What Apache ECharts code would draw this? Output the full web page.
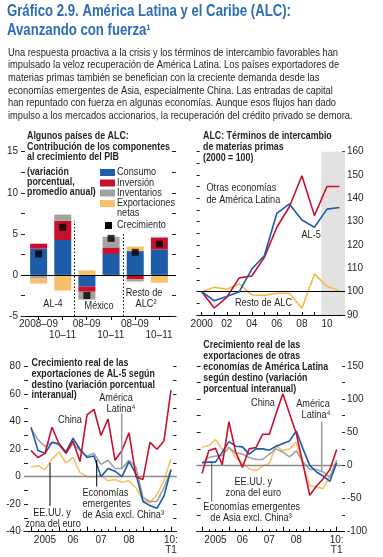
<!DOCTYPE html>
<html><head><meta charset="utf-8">
<script src="https://cdn.jsdelivr.net/npm/echarts@6/dist/echarts.min.js"></script>
<style>html,body{margin:0;padding:0;background:#fff}#c{width:383px;height:557px}</style>
</head><body><div id="c"></div><script>
// ---------- DATA ----------
// Panel 1: contribution to GDP growth (percentage points)
const p1Periods = ['2008–09', '10–11', '08–09', '10–11', '08–09', '10–11'];
const p1Groups = ['AL-4', 'México', 'Resto de ALC²'];
const p1Consumo = [3.2, 4.25, -1.4, 2.55, 2.9, 3.1];
const p1Inversion = [0.6, 2.35, -0.65, 0.8, -0.55, 1.4];
const p1Inventarios = [-0.45, 0.75, -0.95, 1.3, -0.25, 0.15];
const p1Exportaciones = [-0.6, -1.9, 0.55, -0.15, 0.55, -0.95];
const p1Crecimiento = [2.55, 5.8, -2.5, 4.45, 2.75, 3.75];
// Panel 2: commodity terms of trade (2000 = 100)
const p2Years = [2000, 2001, 2002, 2003, 2004, 2005, 2006, 2007, 2008, 2009, 2010, 2011];
const p2Otras = [100, 93, 97.6, 105.9, 106.7, 114.7, 127.6, 136.4, 149.7, 132.6, 145.1, 145.1];
const p2AL5 = [100, 96.1, 97.9, 100, 109.7, 115.4, 133.6, 137.6, 130.7, 127.6, 135.4, 136.1];
const p2Resto = [100, 101.9, 101, 103.3, 98.6, 98.4, 99.3, 99.3, 92.9, 107.6, 102.3, 100.4];
const p2ProjectionStart = 2009.55;
// Panels 3-4: quarters 2005:T1 .. 2010:T1
const qLabels = ['2005T1','2005T2','2005T3','2005T4','2006T1','2006T2','2006T3','2006T4','2007T1','2007T2','2007T3','2007T4','2008T1','2008T2','2008T3','2008T4','2009T1','2009T2','2009T3','2009T4','2010T1'];
const qTickLabels = {2: '2005', 6: '06', 10: '07', 14: '08', 20: '10:\nT1'};
// Panel 3: AL-5 exports by destination
const p3China = [19, 14, 17, 36, 24, 17, 26, 11, 45, 49, 30, 42, 12, 19, 32, 0, -2, 25, 20, 26, 63];
const p3Asia = [36, 19, 17, 25, 24, 18, 28, 20, 14, 15, 0, 6, 4, 0, 11, 2, -18, -21, -23, -14, 5];
const p3AmLat = [35, 27, 22, 25, 23, 17, 24, 19, 15, 17, 9, 12, 6, 6, 12, 7, -15, -18, -18, -8, 5];
const p3USEuro = [7, 8, 5, 13, 18, 10, 14, 3, 0, 0, 1, -3, -2, -4, -3, -8, -17, -19, -13, -3, 13];
// Panel 4: other Latin American economies exports by destination
const p4China = [-12, 22, 26, 1, 66, 20, -3, 25, 27, 47, 47, 78, 108, 78, 48, 2, -45, -31, -20, -6, 24];
const p4Asia = [4, 5, 5, 20, 36, 29, 28, 17, 25, 25, 23, 29, 33, 37, 52, 25, 0, -10, -16, -24, 4];
const p4AmLat = [4, 12, 14, 15, 27, 19, 17, 12, 9, 9, 17, 25, 20, 13, 22, 5, -6, -6, -10, -18, 8];
const p4USEuro = [27, 30, 39, 24, 28, 12, 3, -5, -8, -1, 3, 30, 22, 25, 35, 0, -30, -33, -35, -15, 5];

// ---------- STYLE ----------
const F = '"Liberation Sans", Arial, sans-serif';
const TXT = '#231f20';
const BLUE = '#1d5ca8', RED = '#c8102e', GRAY = '#a2a2a2', YEL = '#f9c06a', TITLEBLUE = '#2c6db5';

// horizontal condensation factors, so the regular font matches the condensed face of the original
const mctx = document.createElement('canvas').getContext('2d');
function measure(text, size, bold) { mctx.font = (bold ? 'bold ' : '') + size + 'px ' + F; return mctx.measureText(text).width; }
const SC = {
  title: 284 / measure('Gráfico 2.9. América Latina y el Caribe (ALC):', 16, true),
  body: 330 / measure('Una respuesta proactiva a la crisis y los términos de intercambio favorables han', 11, false),
  head: 143 / measure('Contribución de los componentes', 11, true),
  note: 96.7 / measure('Economías emergentes', 10.5, false)
};

function txt(x, y, text, o) {
  o = o || {};
  return { type: 'text', x: x, y: y, silent: true, scaleX: o.sx || SC.note, z: 100,
    style: { text: text, fill: o.color || TXT, fontFamily: F, fontSize: o.size || 10.5,
      fontWeight: o.bold ? 'bold' : 'normal', align: o.align || 'left', verticalAlign: 'middle' } };
}
function lines(x, y0, dy, arr, o) { return arr.map((t, i) => txt(x, y0 + i * dy, t, o)); }
function seg(x1, y1, x2, y2, color, w) {
  return { type: 'line', silent: true, z: 90, shape: { x1, y1, x2, y2 }, style: { stroke: color, lineWidth: w || 1 } };
}
function rect(x, y, w, h, color) { return { type: 'rect', silent: true, z: 90, shape: { x, y, width: w, height: h }, style: { fill: color } }; }

const axLabel = { fontFamily: F, fontSize: 10, color: TXT, showMinLabel: true, showMaxLabel: true, hideOverlap: false };
function yAx(grid, min, max, interval, step, pos, labels, tickInside, tickLen, margin, hidden) {
  return { type: 'value', gridIndex: grid, min, max, interval, position: pos, show: !hidden,
    splitLine: { show: false }, axisLine: { show: false, onZero: false },
    axisTick: { show: true, inside: tickInside, length: tickLen, lineStyle: { color: '#222', width: 1 } },
    axisLabel: Object.assign({ show: labels, margin: margin, formatter: v => (Math.abs(v % step) < 1e-9 ? String(v) : '') }, axLabel) };
}
const hiddenLine = { show: false, onZero: false };

const qIdx = qLabels.map((_, i) => i);
const pair = (xs, ys) => ys.map((v, i) => [xs[i], v]);
const p1x = p1Periods.map((_, i) => i);
const p1Even = p1x.filter(i => i % 2 === 0), p1Odd = p1x.filter(i => i % 2 === 1);

const grids = [
  { left: 21, top: 151.7, width: 155, height: 164.3 },       // panel 1 frame (axes)
  { left: 196.7, top: 151.7, width: 148.3, height: 163.3 },  // panel 2
  { left: 24, top: 366.7, width: 152.5, height: 165 },       // panel 3
  { left: 196.7, top: 366, width: 145.3, height: 165.7 },    // panel 4
  { left: 26.55, top: 151.7, width: 144.9, height: 164.3 }   // panel 1 bars (category band)
];

const xAxes = [
  // 0: panel 1 frame, first label row
  { type: 'value', gridIndex: 0, position: 'bottom', min: -0.726, max: 5.705, splitLine: { show: false },
    axisLine: { onZero: false, lineStyle: { color: '#000', width: 1 } },
    axisTick: { customValues: p1x, length: 4, lineStyle: { color: '#000' } },
    axisLabel: Object.assign({}, axLabel, { customValues: p1Even, margin: 3,
      formatter: v => p1Periods[Math.round(v)] }) },
  // 1: panel 2
  { type: 'value', gridIndex: 1, position: 'bottom', min: 1999.6, max: 2011.44, splitLine: { show: false },
    axisLine: { onZero: false, lineStyle: { color: '#000', width: 1 } },
    axisTick: { customValues: p2Years, length: 3, inside: true, lineStyle: { color: '#000' } },
    axisLabel: Object.assign({}, axLabel, { customValues: p2Years.filter(y => y % 2 === 0 && y <= 2010), margin: 4,
      formatter: v => (v === 2000 ? '2000' : String(v).slice(2)) }) },
  // 2: panel 3 (year ticks + labels)
  { type: 'value', gridIndex: 2, position: 'bottom', min: -1, max: 20.79, splitLine: { show: false },
    axisLine: { onZero: false, lineStyle: { color: '#000', width: 1 } },
    axisTick: { customValues: [0, 4, 8, 12, 16, 20], length: 5, inside: true, lineStyle: { color: '#000' } },
    axisLabel: Object.assign({}, axLabel, { customValues: [2, 6, 10, 14, 20], margin: 4, lineHeight: 10,
      formatter: v => qTickLabels[Math.round(v)] }) },
  // 3: panel 3 quarter ticks
  { type: 'value', gridIndex: 2, position: 'bottom', min: -1, max: 20.79, splitLine: { show: false },
    axisLine: hiddenLine, axisLabel: { show: false },
    axisTick: { customValues: qIdx, length: 2.5, inside: true, lineStyle: { color: '#000' } } },
  // 4: panel 4
  { type: 'value', gridIndex: 3, position: 'bottom', min: -0.79, max: 20.79, splitLine: { show: false },
    axisLine: { onZero: false, lineStyle: { color: '#000', width: 1 } },
    axisTick: { customValues: [0, 4, 8, 12, 16, 20], length: 5, inside: true, lineStyle: { color: '#000' } },
    axisLabel: Object.assign({}, axLabel, { customValues: [2, 6, 10, 14, 20], margin: 4, lineHeight: 10,
      formatter: v => qTickLabels[Math.round(v)] }) },
  // 5: panel 4 quarter ticks
  { type: 'value', gridIndex: 3, position: 'bottom', min: -0.79, max: 20.79, splitLine: { show: false },
    axisLine: hiddenLine, axisLabel: { show: false },
    axisTick: { customValues: qIdx, length: 2.5, inside: true, lineStyle: { color: '#000' } } },
  // 6: panel 1 bar categories (hidden)
  { type: 'category', gridIndex: 4, position: 'bottom', data: p1Periods, show: false, axisLine: hiddenLine },
  // 7: panel 1 second label row
  { type: 'value', gridIndex: 0, position: 'bottom', min: -0.726, max: 5.705, splitLine: { show: false },
    axisLine: hiddenLine, axisTick: { show: false },
    axisLabel: Object.assign({}, axLabel, { customValues: p1Odd, margin: 14,
      formatter: v => p1Periods[Math.round(v)] }) }
];

const yAxes = [
  yAx(0, -5, 15, 2.5, 5, 'left', true, true, 4, 3),      // 0
  yAx(0, -5, 15, 2.5, 5, 'right', false, true, 4, 3),    // 1
  yAx(1, 90, 160, 5, 10, 'right', true, true, 3, 2),     // 2
  yAx(1, 90, 160, 5, 10, 'left', false, true, 3, 2),     // 3
  yAx(2, -40, 80, 10, 20, 'left', true, true, 4, 3.3),   // 4
  yAx(2, -40, 80, 10, 20, 'right', false, true, 3.5, 3), // 5
  yAx(3, -100, 150, 25, 50, 'right', true, false, 3, 5), // 6
  yAx(3, -100, 150, 25, 50, 'left', false, true, 4, 3),  // 7
  yAx(4, -5, 15, 2.5, 5, 'left', false, true, 4, 3, true) // 8 hidden (bars)
];

const mlBase = { silent: true, symbol: 'none', label: { show: false }, animation: false };
function bar(name, vals, color) {
  return { type: 'bar', name, xAxisIndex: 6, yAxisIndex: 8, stack: 'gdp', barWidth: 17,
    data: vals, itemStyle: { color }, silent: true };
}
function ln(name, xi, yi, xs, vals, color, z) {
  return { type: 'line', name, xAxisIndex: xi, yAxisIndex: yi, data: pair(xs, vals), symbol: 'none',
    lineStyle: { color, width: 1.6 }, itemStyle: { color }, z: z || 3, silent: true };
}

const series = [
  // panel 1 frame lines (zero line and dotted separators between country groups)
  { type: 'line', name: 'frame', xAxisIndex: 0, yAxisIndex: 0, data: [], silent: true,
    markLine: Object.assign({}, mlBase, {
    data: [
      { yAxis: 0, lineStyle: { color: '#000', width: 1, type: 'solid' } },
      [{ coord: [1.5, -5], lineStyle: { color: '#000', width: 1, type: [1.5, 2] } }, { coord: [1.5, 6.6] }],
      [{ coord: [3.5, -5], lineStyle: { color: '#000', width: 1, type: [1.5, 2] } }, { coord: [3.5, 5.2] }]
    ] }) },
  bar('Consumo', p1Consumo, BLUE),
  bar('Inversión', p1Inversion, RED),
  bar('Inventarios', p1Inventarios, GRAY),
  bar('Exportaciones netas', p1Exportaciones, YEL),
  { type: 'scatter', name: 'Crecimiento', xAxisIndex: 6, yAxisIndex: 8, data: p1Crecimiento,
    symbol: 'rect', symbolSize: 7, itemStyle: { color: '#000' }, z: 5, silent: true },
  // panel 2
  Object.assign(ln('Resto de ALC', 1, 2, p2Years, p2Resto, '#f5b94a'), {
    markArea: { silent: true, itemStyle: { color: '#e2e2e2' }, data: [[{ xAxis: p2ProjectionStart }, { xAxis: 2011.44 }]] },
    markLine: Object.assign({}, mlBase, { data: [{ yAxis: 100, lineStyle: { color: '#000', width: 1, type: 'solid' } }] }) }),
  ln('Otras economías de América Latina', 1, 2, p2Years, p2Otras, RED, 4),
  ln('AL-5', 1, 2, p2Years, p2AL5, BLUE, 5),
  // panel 3
  Object.assign(ln('EE.UU. y zona del euro', 2, 4, qIdx, p3USEuro, YEL, 3), {
    markLine: Object.assign({}, mlBase, { data: [{ yAxis: 0, lineStyle: { color: '#8a8a8a', width: 1.3, type: 'solid' } }] }) }),
  ln('América Latina', 2, 4, qIdx, p3AmLat, GRAY, 4),
  ln('Economías emergentes de Asia excl. China', 2, 4, qIdx, p3Asia, BLUE, 5),
  ln('China', 2, 4, qIdx, p3China, RED, 6),
  // panel 4
  Object.assign(ln('EE.UU. y zona del euro', 4, 6, qIdx, p4USEuro, YEL, 3), {
    markLine: Object.assign({}, mlBase, { data: [{ yAxis: 0, lineStyle: { color: '#8a8a8a', width: 1.3, type: 'solid' } }] }) }),
  ln('América Latina', 4, 6, qIdx, p4AmLat, GRAY, 4),
  ln('Economías emergentes de Asia excl. China', 4, 6, qIdx, p4Asia, BLUE, 5),
  ln('China', 4, 6, qIdx, p4China, RED, 6)
];

const B = { bold: true, size: 11, sx: SC.head };
const graphic = [].concat(
  // main title
  [txt(7, 12, 'Gráfico 2.9. América Latina y el Caribe (ALC):', { bold: true, size: 16, color: TITLEBLUE, sx: SC.title }),
   txt(7, 31, 'Avanzando con fuerza¹', { bold: true, size: 16, color: TITLEBLUE, sx: SC.title })],
  lines(8, 52.5, 12.7, [
    'Una respuesta proactiva a la crisis y los términos de intercambio favorables han',
    'impulsado la veloz recuperación de América Latina. Los países exportadores de',
    'materias primas también se benefician con la creciente demanda desde las',
    'economías emergentes de Asia, especialmente China. Las entradas de capital',
    'han repuntado con fuerza en algunas economías. Aunque esos flujos han dado',
    'impulso a los mercados accionarios, la recuperación del crédito privado se demora.'], { size: 11, sx: SC.body }),
  // panel 1 title
  lines(27, 135.7, 10.8, ['Algunos países de ALC:', 'Contribución de los componentes', 'al crecimiento del PIB'], B),
  lines(27, 171.5, 10.1, ['(variación', 'porcentual,', 'promedio anual)'], B),
  // panel 1 legend
  [rect(100, 169, 15, 7, BLUE), txt(117, 172.5, 'Consumo'),
   rect(100, 179.5, 15, 7, RED), txt(117, 183, 'Inversión'),
   rect(100, 189.5, 15, 7, GRAY), txt(117, 193, 'Inventarios'),
   rect(100, 200, 15, 7, YEL), txt(117, 203.5, 'Exportaciones'), txt(117, 213.5, 'netas'),
   rect(105, 222, 7, 7, '#000'), txt(117, 225.5, 'Crecimiento')],
  // panel 1 group labels
  [txt(53, 304, 'AL-4', { align: 'center' }), txt(99, 306, 'México', { align: 'center' }),
   txt(144, 293, 'Resto de', { align: 'center' }), txt(146, 304.5, 'ALC²', { align: 'center' })],
  // panel 2
  lines(203, 135.7, 11, ['ALC: Términos de intercambio', 'de materias primas', '(2000 = 100)'], B),
  lines(206.5, 188.5, 11.5, ['Otras economías', 'de América Latina']),
  [txt(301.5, 235, 'AL-5'), txt(235, 303.5, 'Resto de ALC')],
  // panel 3
  lines(31.5, 363.3, 10.7, ['Crecimiento real de las', 'exportaciones de AL-5 según', 'destino (variación porcentual', 'interanual)'], B),
  [txt(116, 398.3, 'América', { align: 'center' }), txt(121, 409.5, 'Latina⁴', { align: 'center' }),
   seg(121.7, 413.5, 121.7, 468, '#9a9a9a', 1.5),
   txt(70, 420, 'China', { align: 'center' }),
   txt(52, 512.7, 'EE.UU. y', { align: 'center' }), txt(53, 524, 'zona del euro', { align: 'center' }),
   seg(50, 463, 50, 506, '#000', 1),
   txt(82.5, 493.3, 'Economías'), txt(82.5, 504.3, 'emergentes'), txt(82.5, 515.3, 'de Asia excl. China³'),
   seg(96.7, 460, 96.7, 486.5, '#000', 1)],
  // panel 4
  lines(203.3, 345, 11, ['Crecimiento real de las', 'exportaciones de otras', 'economías de América Latina', 'según destino (variación', 'porcentual interanual)'], B),
  [txt(263, 403.3, 'China', { align: 'center' }),
   txt(313, 404, 'América', { align: 'center' }), txt(316, 415.5, 'Latina⁴', { align: 'center' }),
   seg(321.7, 421.5, 321.7, 471.5, '#9a9a9a', 1.5),
   txt(253.3, 481.7, 'EE.UU. y', { align: 'center' }), txt(253.3, 493.3, 'zona del euro', { align: 'center' }),
   txt(251.7, 506.7, 'Economías emergentes', { align: 'center' }), txt(251, 518.3, 'de Asia excl. China³', { align: 'center' }),
   seg(211.7, 463, 211.7, 501.5, '#555', 1)]
);

const chart = echarts.init(document.getElementById('c'), null, { renderer: 'canvas' });
chart.setOption({
  backgroundColor: '#fff', animation: false,
  grid: grids, xAxis: xAxes, yAxis: yAxes, series: series, graphic: graphic
});
</script></body></html>
